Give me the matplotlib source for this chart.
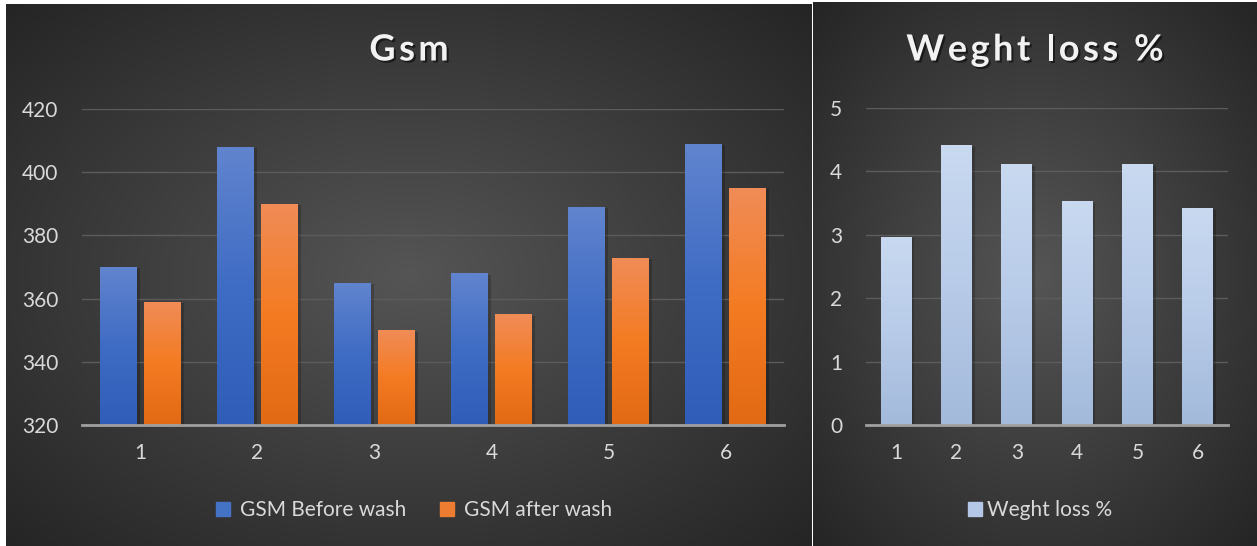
import numpy as np
import matplotlib
matplotlib.use("Agg")
import matplotlib.pyplot as plt
import matplotlib.patheffects as pe
from matplotlib.colors import LinearSegmentedColormap
from matplotlib.patches import Patch

plt.rcParams['font.family'] = ['Lato', 'DejaVu Sans']

# data
samples = ['1', '2', '3', '4', '5', '6']
gsm_before = [370, 408, 365, 368, 389, 409]
gsm_after = [359, 390, 350, 355, 373, 395]
weight_loss = [2.97, 4.41, 4.11, 3.53, 4.11, 3.42]

W, H = 1257, 546
fig = plt.figure(figsize=(W/100, H/100), dpi=100)
fig.patch.set_facecolor('white')
renderer = fig.canvas.get_renderer()

txt = '#d9d9d9'


def panel_bg(rect):
    # dark radial gradient like the excel chart style
    ax = fig.add_axes(rect)
    ny, nx = 200, 300
    yy, xx = np.mgrid[-1:1:ny*1j, -1:1:nx*1j]
    r = np.clip(np.sqrt(xx**2 + yy**2) / np.sqrt(2), 0, 1)
    c0 = np.array([0x55, 0x55, 0x55]) / 255
    c1 = np.array([0x25, 0x25, 0x25]) / 255
    img = c0[None, None, :] * (1 - r[..., None]) + c1[None, None, :] * r[..., None]
    ax.imshow(img, aspect='auto', extent=(0, 1, 0, 1), zorder=0)
    ax.set_axis_off()
    return ax


def grad_bars(ax, bars, stops):
    cmap = LinearSegmentedColormap.from_list('g', stops)
    ymin = ax.get_ylim()[0]
    grad = np.linspace(1, 0, 100).reshape(-1, 1)
    for b in bars:
        x0 = b.get_x()
        y0 = max(b.get_y(), ymin)
        y1 = b.get_y() + b.get_height()
        b.set_path_effects([pe.SimplePatchShadow(offset=(2, -1), shadow_rgbFace='black', alpha=0.2), pe.Normal()])
        im = ax.imshow(grad, cmap=cmap, aspect='auto', extent=(x0, x0 + b.get_width(), y0, y1), zorder=3)
        im.set_clip_path(b)


def style_axis(ax, ticks, ylim, xlim):
    ax.set_facecolor('none')
    ax.set_ylim(ylim)
    ax.set_xlim(xlim)
    ax.set_yticks(ticks)
    ax.grid(axis='y', color='#5c5c5c', linewidth=1.0, zorder=1)
    ax.set_axisbelow(True)
    for s in ['top', 'right', 'left']:
        ax.spines[s].set_visible(False)
    ax.spines['bottom'].set_color('#a0a0a0')
    ax.spines['bottom'].set_linewidth(2)
    ax.spines['bottom'].set_zorder(5)
    ax.tick_params(axis='both', length=0, colors=txt, labelsize=15)
    ax.tick_params(axis='y', pad=17)
    ax.tick_params(axis='x', pad=13)


title_fx = [pe.withSimplePatchShadow(offset=(1.5, -1.5), shadow_rgbFace='black', alpha=0.5)]


def spaced_title(s, xc, yc, track=3.0, size=26):
    # draw title letter by letter so it gets a bit of character spacing
    pieces = []
    widths = []
    for ch in s:
        t = fig.text(0, 0, ch, fontsize=size, fontweight='bold', color='#f2f2f2',
                     va='center', ha='left', path_effects=title_fx)
        if ch == ' ':
            w = size * 0.25 * 100 / 72
        else:
            w = t.get_window_extent(renderer).width
        pieces.append(t)
        widths.append(w)
    total = sum(widths) + track * (len(s) - 1)
    xpos = xc - total / 2
    for t, w in zip(pieces, widths):
        t.set_position((xpos / W, (H - yc) / H))
        xpos += w + track


# left panel - Gsm
panel_bg([6/W, 0, (812-6)/W, (H-4)/H])
ax1 = fig.add_axes([82/W, (H-425)/H, 702/W, 316/H])
x = np.arange(len(samples))
style_axis(ax1, [320, 340, 360, 380, 400, 420], (320, 420), (-0.5, len(samples)-0.5))
b1 = ax1.bar(x - 0.19, gsm_before, width=0.316, color='#4472c4', zorder=2)
b2 = ax1.bar(x + 0.19, gsm_after, width=0.316, color='#ed7d31', zorder=2)
ax1.set_ylim(320, 420)
ax1.set_xlim(-0.5, len(samples)-0.5)
ax1.set_xticks(x)
ax1.set_xticklabels(samples)
grad_bars(ax1, b1, ['#2f5db8', '#3f6cc4', '#6184ce'])
grad_bars(ax1, b2, ['#e26a14', '#f47b22', '#f08c57'])
ax1.set_ylim(320, 420)
ax1.set_xlim(-0.5, len(samples)-0.5)
spaced_title('Gsm', 409, 50, track=3.5, size=26)
fig.legend([Patch(color='#4472c4'), Patch(color='#ed7d31')], ['GSM Before wash', 'GSM after wash'],
           loc='center', bbox_to_anchor=(414/W, (H-510)/H), ncol=2, frameon=False,
           fontsize=15, labelcolor=txt, handlelength=0.67, handleheight=0.67,
           handletextpad=0.5, columnspacing=1.6)

# right panel - weight loss
panel_bg([813/W, 0, (W-813)/W, (H-2)/H])
ax2 = fig.add_axes([866/W, (H-425)/H, 362/W, 317/H])
style_axis(ax2, [0, 1, 2, 3, 4, 5], (0, 5), (-0.5, len(samples)-0.5))
b3 = ax2.bar(x, weight_loss, width=0.51, color='#b4c7e7', zorder=2)
ax2.set_xticks(x)
ax2.set_xticklabels(samples)
grad_bars(ax2, b3, ['#a3badb', '#b8cbe8', '#c8d9f0'])
ax2.set_ylim(0, 5)
ax2.set_xlim(-0.5, len(samples)-0.5)
spaced_title('Weght loss %', 1035, 50, track=3.5, size=26)
fig.legend([Patch(color='#b4c7e7')], ['Weght loss %'],
           loc='center', bbox_to_anchor=(1040/W, (H-510)/H), frameon=False,
           fontsize=15, labelcolor=txt, handlelength=0.67, handleheight=0.67,
           handletextpad=0.25)

fig.savefig('out.png', dpi=100, facecolor='white')
